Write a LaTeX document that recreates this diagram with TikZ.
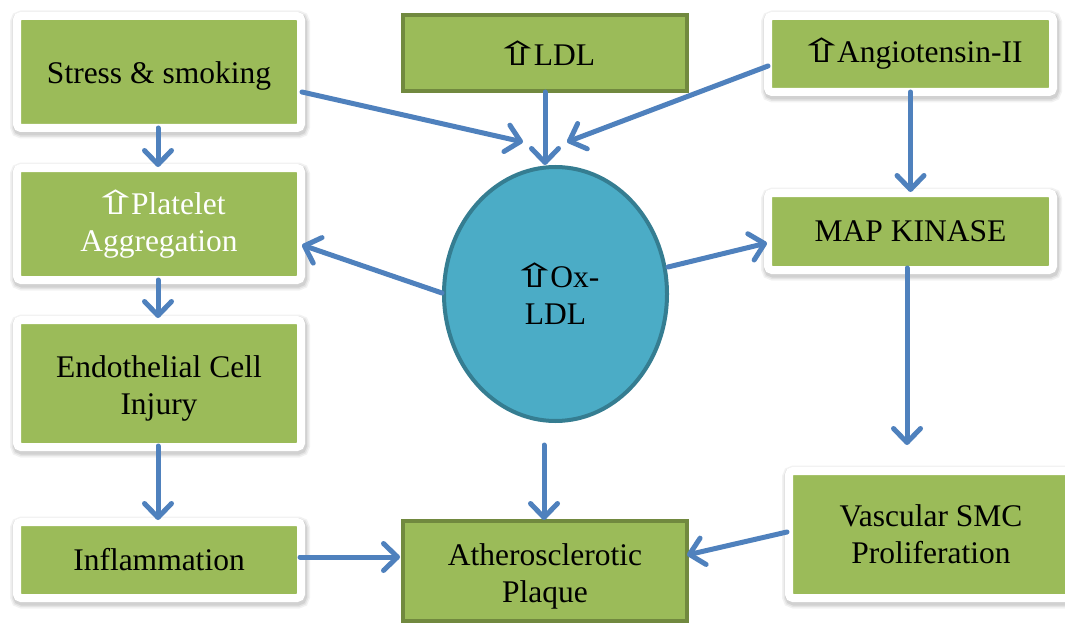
\documentclass[tikz,border=0pt]{standalone}
\usepackage{graphicx}
\usepackage{fontspec}
\setmainfont{Liberation Serif}
\newfontfamily\symfont{DejaVu Sans}
\usetikzlibrary{arrows.meta,calc,shapes.geometric}
\definecolor{boxgreen}{HTML}{9BBB59}
\definecolor{darkgreen}{HTML}{71893F}
\definecolor{oxfill}{HTML}{4BACC6}
\definecolor{oxline}{HTML}{357D91}
\definecolor{arrowblue}{HTML}{4F81BD}
\newcommand{\uparr}{{\scalebox{1.4}[0.82]{\symfont\fontsize{40}{40}\selectfont ⇧}}\kern-8pt}
\newcommand{\dn}[2]{\raisebox{-#1}[\height][\depth]{\begin{tabular}{@{}c@{}}#2\end{tabular}}}
\tikzset{
  txt/.style={font=\fontsize{31.5}{37}\selectfont, align=center},
  wbox/.style={rectangle, draw=white, line width=8pt, fill=boxgreen, rounded corners=4pt,
    inner sep=0pt, txt,
    preaction={draw=black, draw opacity=0.05, line width=16pt, transform canvas={xshift=1pt,yshift=-2.5pt}},
    preaction={draw=black, draw opacity=0.06, line width=13pt, transform canvas={xshift=1pt,yshift=-2.5pt}},
    preaction={draw=black, draw opacity=0.08, line width=10pt, transform canvas={xshift=1pt,yshift=-2.5pt}}},
  gbox/.style={rectangle, draw=darkgreen, line width=4pt, fill=boxgreen, inner sep=0pt, txt},
  oxnode/.style={ellipse, draw=oxline, line width=4pt, fill=oxfill, inner sep=0pt,
    minimum width=223pt, minimum height=254pt, txt},
  arr/.style={draw=arrowblue, line width=5pt, line cap=round,
    -{Straight Barb[length=14pt,width=27pt,round]}}
}
\begin{document}
\begin{tikzpicture}[x=1pt,y=-1pt]
\clip (0,0) rectangle (1065,623);
\fill[white] (0,0) rectangle (1065,623);
% left column
\node[wbox, minimum width=284pt, minimum height=112pt] (stress) at (159,72) {\dn{4pt}{Stress \& smoking}};
\node[wbox, minimum width=284pt, minimum height=112pt, text=white] (platelet) at (159,224) {\dn{2pt}{\uparr Platelet\\Aggregation}};
\node[wbox, minimum width=284pt, minimum height=127pt] (endo) at (159,383.5) {\dn{5pt}{Endothelial Cell\\Injury}};
\node[wbox, minimum width=284pt, minimum height=76pt] (inflam) at (159,560) {\dn{3pt}{Inflammation}};
% middle
\node[gbox, minimum width=284pt, minimum height=76pt] (ldl) at (545,53) {\uparr LDL};
\node[gbox, minimum width=284pt, minimum height=100pt] (plaque) at (545,571) {\dn{6pt}{Atherosclerotic\\Plaque}};
\node[oxnode] (ox) at (555.5,294) {\uparr Ox-\\LDL};
% right column
\node[wbox, minimum width=285pt, minimum height=76pt] (angio) at (910.5,54) {\uparr Angiotensin-II};
\node[wbox, minimum width=285pt, minimum height=77pt] (map) at (910.5,231.5) {MAP KINASE};
\node[wbox, minimum width=284pt, minimum height=127pt] (vasc) at (931,534.5) {Vascular SMC\\Proliferation};
% arrows
\draw[arr] ($(stress.south)+(-1,-4)$) -- ($(platelet.north)+(-1,3)$);
\draw[arr] ($(platelet.south)+(-1,-4)$) -- ($(endo.north)+(-1,2)$);
\draw[arr] ($(endo.south)+(-1,-5)$) -- ($(inflam.north)+(-1,2)$);
\draw[arr] ($(inflam.east)+(-5,-3)$) -- ($(plaque.west)+(-1,-14)$);
\draw[arr] ($(ox.south)+(-11.5,22)$) -- ($(plaque.north)+(-1,1)$);
\draw[arr] ($(ldl.south)+(0,-1)$) -- ($(ox.north)+(-10.5,0)$);
\draw[arr] ($(stress.east)+(-3,20)$) -- ($(ox.north)+(-32.5,-23)$);
\draw[arr] ($(angio.west)+(4,12)$) -- ($(ox.north)+(11.5,-23)$);
\draw[arr] ($(angio.south)+(0,-4)$) -- ($(map.north)+(0,3)$);
\draw[arr] ($(ox.east)+(-1,-27)$) -- ($(map.west)+(3,11.5)$);
\draw[arr] ($(ox.west)+(0,-1)$) -- ($(platelet.east)+(-3,21)$);
\draw[arr] ($(map.south)+(-3.5,-6)$) -- ($(vasc.north)+(-24,-22)$);
\draw[arr] ($(vasc.west)+(2,-2.5)$) -- ($(plaque.east)+(-2,-16)$);
\end{tikzpicture}
\end{document}
